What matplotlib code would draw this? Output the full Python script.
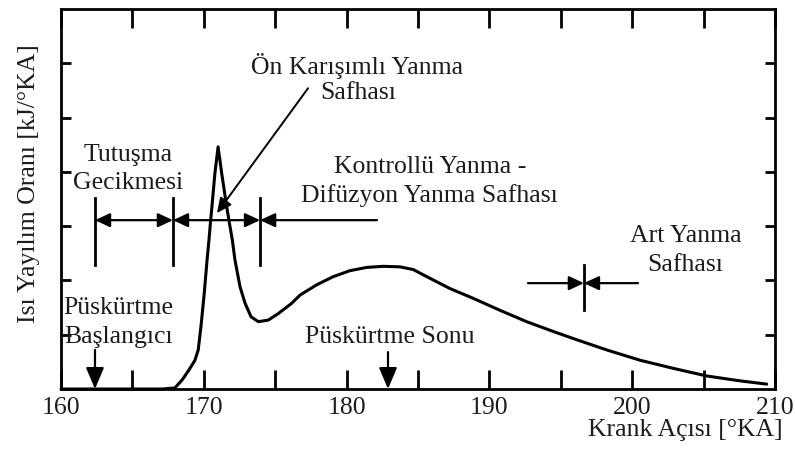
import matplotlib
matplotlib.use("Agg")
import matplotlib.pyplot as plt

# Heat release rate curve (arbitrary units) against crank angle
crank_angle = [160.0, 167.1, 167.98, 168.49, 168.96, 169.38, 169.61, 169.80, 170.03,
               170.23, 170.36, 170.48, 170.57, 170.78, 171.0, 171.25, 171.60, 171.76,
               172.00, 172.18, 172.54, 172.89, 173.31, 173.82, 174.52, 175.22, 176.16,
               176.74, 177.91, 179.07, 180.24, 181.41, 182.57, 183.74, 184.67, 185.61,
               187.24, 188.87, 190.74, 192.61, 194.47, 195.87, 198.21, 200.55, 202.88,
               205.22, 207.55, 209.42]
heat_release = [0.0, 0.0, 0.02, 0.17, 0.35, 0.53, 0.72, 1.15, 1.76,
                2.38, 2.74, 3.11, 3.36, 3.98, 4.46, 3.98, 3.36, 3.11,
                2.74, 2.38, 1.88, 1.58, 1.33, 1.24, 1.27, 1.39, 1.58,
                1.73, 1.92, 2.07, 2.18, 2.24, 2.26, 2.25, 2.20, 2.07,
                1.85, 1.67, 1.45, 1.24, 1.06, 0.93, 0.72, 0.53, 0.38,
                0.24, 0.15, 0.09]

x_ticks = [160, 170, 180, 190, 200, 210]
x_minor_ticks = [165, 175, 185, 195, 205]
y_ticks = [1, 2, 3, 4, 5, 6]

# Combustion phase boundaries (crank angle)
phase_bounds = [162.38, 167.84, 173.94]
diffusion_line_end = 182.13
phase_level = 3.11
afterburn_bound = 196.62
afterburn_from = [192.70, 200.41]
afterburn_level = 1.95

# Injection start / end
injection_start = 162.38
injection_end = 182.9

TXT = "#1c1c1c"
FS = 18.5
plt.rcParams['font.family'] = ['Liberation Serif', 'DejaVu Serif']

fig = plt.figure(figsize=(7.95, 4.49), dpi=100)
ax = fig.add_axes([61 / 795, 1 - 389 / 449, (775 - 61) / 795, (389 - 9) / 449])

ax.plot(crank_angle, heat_release, color="black", lw=2.2, solid_joinstyle="round",
        solid_capstyle="round", clip_on=False, zorder=3)

ax.set_xlim(160, 210)
ax.set_ylim(0, 7)
ax.set_xticks(x_ticks)
ax.set_xticks(x_minor_ticks, minor=True)
ax.set_xticklabels([str(t) for t in x_ticks], fontsize=FS, color=TXT)
ax.set_yticks(y_ticks)
ax.set_yticklabels([])
ax.tick_params(axis="x", which="both", direction="in", length=14, width=2,
               top=True, bottom=True, pad=6)
ax.tick_params(axis="y", which="both", direction="in", length=7.5, width=2,
               left=True, right=True)
for s in ax.spines.values():
    s.set_linewidth(2)

fig.text(29 / 795, 1 - 184 / 449, "Isı Yayılım Oranı [kJ/°KA]", rotation=90,
         ha="center", va="center", fontsize=FS, color=TXT)
fig.text(783 / 795, 1 - 430 / 449, "Krank Açısı [°KA]", ha="right", va="center",
         fontsize=FS, color=TXT)

small_head = "-|>,head_length=0.9,head_width=0.42"
both_head = "<|-|>,head_length=0.9,head_width=0.42"
big_head = "-|>,head_length=1.3,head_width=0.55"


def arrow(xy, xytext, style, lw=1.6):
    ax.annotate("", xy=xy, xytext=xytext,
                arrowprops=dict(arrowstyle=style, color="black", lw=lw,
                                shrinkA=0, shrinkB=0))


# Phase boundary bars with dimension arrows
for b in phase_bounds:
    ax.plot([b, b], [2.28, 3.52], color="black", lw=2)
arrow((phase_bounds[1], phase_level), (phase_bounds[0], phase_level), both_head)
arrow((phase_bounds[2], phase_level), (phase_bounds[1], phase_level), both_head)
arrow((phase_bounds[2], phase_level), (diffusion_line_end, phase_level), small_head)

# Afterburning phase start
ax.plot([afterburn_bound, afterburn_bound], [1.45, 2.28], color="black", lw=2)
for x0 in afterburn_from:
    arrow((afterburn_bound, afterburn_level), (x0, afterburn_level), small_head)

# Leader for the premixed phase label
arrow((170.92, 3.24), (177.30, 5.54), small_head, lw=1.4)

# Injection start / end arrows
arrow((injection_start, 0.0), (injection_start, 0.72), big_head, lw=1.6)
arrow((injection_end, 0.0), (injection_end, 0.68), big_head, lw=1.6)

labels = [
    ("Ön Karışımlı Yanma", 180.73, 5.95),
    ("Safhası", 180.80, 5.45),
    ("Tutuşma", 164.69, 4.31),
    ("Gecikmesi", 164.69, 3.79),
    ("Kontrollü Yanma -", 185.84, 4.09),
    ("Difüzyon Yanma Safhası", 185.77, 3.56),
    ("Art Yanma", 203.77, 2.82),
    ("Safhası", 203.70, 2.28),
    ("Püskürtme", 164.0, 1.49),
    ("Başlangıcı", 164.0, 0.96),
    ("Püskürtme Sonu", 183.04, 0.96),
]
for txt, x, y in labels:
    ax.text(x, y, txt, ha="center", va="center", fontsize=FS, color=TXT)

fig.savefig("out.png", dpi=100)
